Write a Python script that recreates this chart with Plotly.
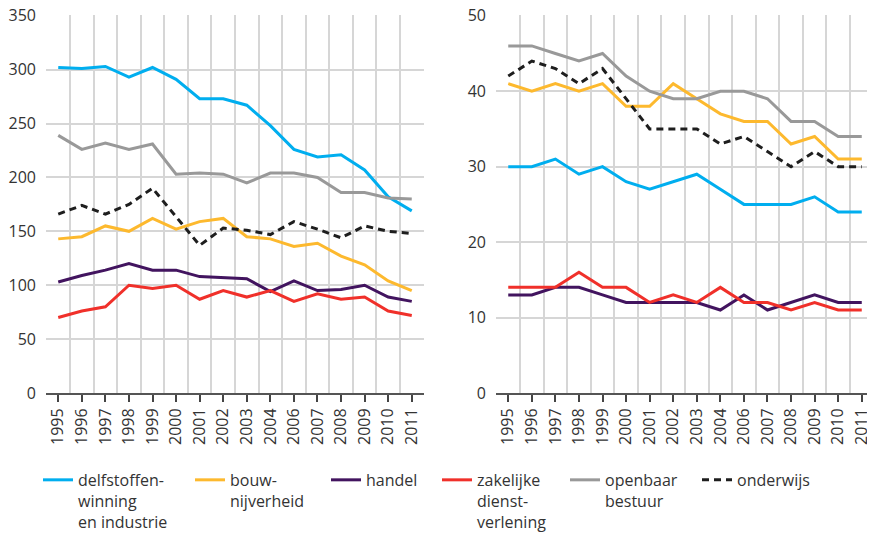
import plotly.graph_objects as go

years = ["1995", "1996", "1997", "1998", "1999", "2000", "2001", "2002",
         "2003", "2004", "2006", "2007", "2008", "2009", "2010", "2011"]

series_names = [
    "delfstoffen-<br>winning<br>en industrie",
    "bouw-<br>nijverheid",
    "handel",
    "zakelijke<br>dienst-<br>verlening",
    "openbaar<br>bestuur",
    "onderwijs",
]

# left panel (values 0-350)
left_delfstoffen = [302, 301, 303, 293, 302, 291, 273, 273, 267, 248, 226, 219, 221, 207, 182, 169]
left_bouw = [143, 145, 155, 150, 162, 152, 159, 162, 145, 143, 136, 139, 127, 119, 104, 95]
left_handel = [103, 109, 114, 120, 114, 114, 108, 107, 106, 94, 104, 95, 96, 100, 89, 85]
left_zakelijke = [70, 76, 80, 100, 97, 100, 87, 95, 89, 95, 85, 92, 87, 89, 76, 72]
left_openbaar = [239, 226, 232, 226, 231, 203, 204, 203, 195, 204, 204, 200, 186, 186, 181, 180]
left_onderwijs = [166, 174, 166, 175, 190, 164, 137, 153, 151, 147, 159, 152, 144, 155, 150, 148]

# right panel (values 0-50)
right_delfstoffen = [30, 30, 31, 29, 30, 28, 27, 28, 29, 27, 25, 25, 25, 26, 24, 24]
right_bouw = [41, 40, 41, 40, 41, 38, 38, 41, 39, 37, 36, 36, 33, 34, 31, 31]
right_handel = [13, 13, 14, 14, 13, 12, 12, 12, 12, 11, 13, 11, 12, 13, 12, 12]
right_zakelijke = [14, 14, 14, 16, 14, 14, 12, 13, 12, 14, 12, 12, 11, 12, 11, 11]
right_openbaar = [46, 46, 45, 44, 45, 42, 40, 39, 39, 40, 40, 39, 36, 36, 34, 34]
right_onderwijs = [42, 44, 43, 41, 43, 39, 35, 35, 35, 33, 34, 32, 30, 32, 30, 30]

left_values = [left_delfstoffen, left_bouw, left_handel, left_zakelijke, left_openbaar, left_onderwijs]
right_values = [right_delfstoffen, right_bouw, right_handel, right_zakelijke, right_openbaar, right_onderwijs]

colors = ["#00AEEF", "#FDB92E", "#42145F", "#F0302A", "#999999", "#1E1E1E"]
dashes = ["solid", "solid", "solid", "solid", "solid", "7px,5px"]
legend_widths = [107, 91, 66, 83, 87, None]

FONT = "Open Sans, Noto Sans, sans-serif"
TXT = "#333333"
GRID = "#D6D6D6"

x_idx = list(range(len(years)))
bounds = [i - 0.5 for i in range(len(years) + 1)]

fig = go.Figure()
for i, name in enumerate(series_names):
    tr = dict(
        x=x_idx, y=left_values[i], mode="lines", name=name,
        line=dict(color=colors[i], width=3, dash=dashes[i]),
        xaxis="x", yaxis="y", legendgroup=str(i), showlegend=True,
    )
    if legend_widths[i]:
        tr["legendwidth"] = legend_widths[i]
    fig.add_trace(go.Scatter(**tr))
for i, name in enumerate(series_names):
    fig.add_trace(go.Scatter(
        x=x_idx, y=right_values[i], mode="lines", name=name,
        line=dict(color=colors[i], width=3, dash=dashes[i]),
        xaxis="x2", yaxis="y2", legendgroup=str(i), showlegend=False,
    ))

# page body has an 8px margin, so the figure is 8px smaller than the window
W, H = 867, 526
L_DOM = [38 / W, 416 / W]
R_DOM = [488 / W, 866 / W]

xcommon = dict(
    range=[-0.52, len(years) - 0.48],
    tickmode="array", tickvals=x_idx, ticktext=years,
    tickangle=-90, ticks="outside", ticklen=7, tickwidth=1.5, tickcolor="#444444",
    showgrid=False, zeroline=False,
    showline=True, linecolor="#555555", linewidth=2,
    tickfont=dict(family=FONT, size=16, color=TXT),
    ticklabeloverflow="allow",
    minor=dict(tickmode="array", tickvals=bounds, showgrid=True,
               gridcolor=GRID, gridwidth=1.5, ticks=""),
    fixedrange=True,
)
ycommon = dict(
    showgrid=True, gridcolor=GRID, gridwidth=1.5, zeroline=False,
    showline=False, ticks="", ticklabelstandoff=9,
    ticklabeloverflow="allow",
    tickfont=dict(family=FONT, size=16, color=TXT),
    fixedrange=True,
)

fig.update_layout(
    width=W, height=H,
    margin=dict(l=0, r=0, t=7, b=141, autoexpand=False),
    paper_bgcolor="white", plot_bgcolor="white",
    xaxis=dict(domain=L_DOM, anchor="y", **xcommon),
    yaxis=dict(domain=[0, 1], anchor="x", range=[0, 350.7], dtick=50, **ycommon),
    xaxis2=dict(domain=R_DOM, anchor="y2", **xcommon),
    yaxis2=dict(domain=[0, 1], anchor="x2", range=[0, 50.1], dtick=10, **ycommon),
    legend=dict(
        orientation="h", x=30 / W, xanchor="left", y=-0.185, yanchor="top",
        valign="top", font=dict(family=FONT, size=16, color=TXT),
        bgcolor="rgba(0,0,0,0)", borderwidth=0, tracegroupgap=0,
        itemclick=False, itemdoubleclick=False,
    ),
    showlegend=True,
)

fig.write_html("out.html")
